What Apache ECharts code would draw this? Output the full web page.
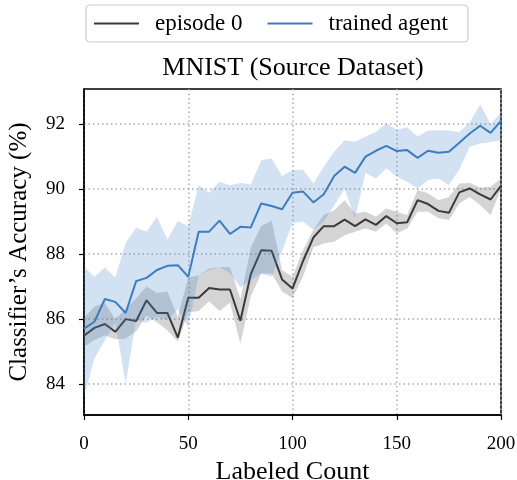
<!DOCTYPE html>
<html>
<head>
<meta charset="utf-8">
<script src="https://cdn.jsdelivr.net/npm/echarts@6/dist/echarts.min.js"></script>
<style>
  html, body { margin: 0; padding: 0; background: #fff; }
  #chart { width: 517px; height: 480px; }
</style>
</head>
<body>
<div id="chart"></div>
<script>
// Labeled count at each evaluation step
const labeledCount = [0, 5, 10, 15, 20, 25, 30, 35, 40, 45, 50, 55, 60, 65, 70, 75, 80, 85, 90, 95, 100,
  105, 110, 115, 120, 125, 130, 135, 140, 145, 150, 155, 160, 165, 170, 175, 180, 185, 190, 195, 200];

// Episode 0: mean accuracy and spread
const episode0Mean = [85.49, 85.73, 85.85, 85.61, 86.0, 85.94, 86.58, 86.19, 86.19, 85.43, 86.66, 86.66, 86.96, 86.91, 86.91, 85.95, 87.38, 88.12, 88.1, 87.22, 86.94,
  87.78, 88.51, 88.86, 88.86, 89.06, 88.86, 89.07, 88.9, 89.17, 88.95, 88.98, 89.66, 89.54, 89.33, 89.27, 89.9, 90.02, 89.84, 89.68, 90.1];
const episode0Upper = [86.05, 86.38, 86.5, 86.0, 86.3, 86.64, 87.0, 86.8, 86.85, 86.07, 87.28, 87.35, 87.56, 87.6, 87.6, 86.62, 88.2, 88.86, 89.03, 87.5, 87.3,
  88.12, 88.74, 89.2, 89.35, 89.66, 89.25, 89.3, 89.15, 89.4, 89.3, 89.2, 89.97, 89.87, 89.66, 89.76, 90.17, 90.19, 90.05, 90.07, 90.33];
const episode0Lower = [85.15, 85.36, 85.5, 85.38, 85.4, 85.62, 86.1, 85.9, 85.65, 85.3, 86.2, 86.25, 86.55, 86.25, 86.5, 85.25, 86.7, 87.4, 87.4, 86.85, 86.65,
  87.3, 88.2, 88.33, 88.38, 88.58, 88.69, 88.79, 88.69, 88.94, 88.64, 88.79, 89.3, 89.3, 89.1, 89.05, 89.56, 89.76, 89.51, 89.2, 90.0];

// Trained agent: mean accuracy and spread
const trainedMean = [85.71, 85.92, 86.62, 86.53, 86.19, 87.17, 87.27, 87.51, 87.64, 87.66, 87.3, 88.69, 88.69, 89.03, 88.62, 88.84, 88.82, 89.56, 89.48, 89.38, 89.89,
  89.93, 89.59, 89.84, 90.4, 90.69, 90.5, 91.0, 91.18, 91.33, 91.17, 91.2, 90.96, 91.18, 91.12, 91.15, 91.43, 91.71, 91.95, 91.73, 92.1];
const trainedUpper = [87.61, 87.3, 87.59, 87.28, 88.35, 88.82, 88.69, 89.15, 88.45, 89.02, 88.86, 90.12, 89.89, 90.23, 90.12, 90.19, 90.14, 90.89, 90.94, 90.4, 90.58,
  90.6, 90.17, 90.69, 91.15, 91.5, 91.46, 91.61, 91.76, 92.03, 91.82, 91.9, 91.62, 91.8, 91.8, 91.8, 91.75, 92.05, 92.6, 92.0, 92.35];
const trainedLower = [83.61, 84.79, 85.35, 85.9, 84.02, 85.97, 85.89, 86.07, 85.97, 86.3, 85.76, 87.35, 87.5, 87.6, 87.4, 86.98, 87.2, 87.4, 87.3, 88.1, 88.95,
  89.0, 88.75, 89.0, 89.5, 90.0, 89.1, 90.5, 90.33, 90.64, 90.38, 90.23, 90.02, 90.28, 90.33, 90.13, 90.6, 91.3, 91.4, 91.45, 91.5];

// Axis ticks
const xTicks = [0, 50, 100, 150, 200];
const yTicks = [84, 86, 88, 90, 92];

const FONT = '"Liberation Serif", "Times New Roman", serif';

function pairs(ys) { return labeledCount.map((x, i) => [x, ys[i]]); }

// Shaded band between a lower and an upper curve, drawn as one polygon
function bandSeries(name, lower, upper, color, z) {
  return {
    name: name,
    type: 'custom',
    z: z,
    silent: true,
    clip: true,
    data: labeledCount.map((x, i) => [x, lower[i], upper[i]]),
    encode: { x: 0, y: [1, 2] },
    renderItem: function (params, api) {
      if (params.dataIndex !== 0) return null;
      const pts = [];
      for (let i = 0; i < labeledCount.length; i++) pts.push(api.coord([labeledCount[i], upper[i]]));
      for (let i = labeledCount.length - 1; i >= 0; i--) pts.push(api.coord([labeledCount[i], lower[i]]));
      return { type: 'polygon', shape: { points: pts }, style: { fill: color } };
    }
  };
}

const chart = echarts.init(document.getElementById('chart'), null, { renderer: 'canvas' });

chart.setOption({
  animation: false,
  backgroundColor: '#fff',
  title: {
    text: 'MNIST (Source Dataset)',
    left: 293, top: 55, padding: 0, textAlign: 'center',
    textStyle: { fontFamily: FONT, fontSize: 26, lineHeight: 26, fontWeight: 'normal', color: '#000' }
  },
  legend: {
    data: ['episode 0', 'trained agent'],
    left: 86, top: 5,
    padding: [7, 20, 7, 8],
    itemGap: 25,
    itemWidth: 45, itemHeight: 2,
    icon: 'rect',
    borderColor: '#cccccc', borderWidth: 1.2, borderRadius: 4,
    textStyle: { fontFamily: FONT, fontSize: 23, lineHeight: 23, color: '#000', padding: [0, 0, 0, 11] }
  },
  grid: {
    left: 84, right: 16, top: 89, bottom: 65,
    outerBoundsMode: 'none',
    containLabel: false,
    show: true, borderColor: '#000', borderWidth: 1.5
  },
  xAxis: {
    type: 'value',
    min: 0, max: 200, interval: 50,
    name: 'Labeled Count', nameLocation: 'middle', nameGap: 41,
    nameTextStyle: { fontFamily: FONT, fontSize: 26, lineHeight: 26, color: '#000' },
    axisLine: { show: true, lineStyle: { color: '#000', width: 1.5 } },
    axisTick: { show: true, length: 5, lineStyle: { color: '#000', width: 1.2 }, customValues: xTicks },
    axisLabel: { fontFamily: FONT, fontSize: 19, color: '#000', margin: 20, customValues: xTicks },
    splitLine: { show: true, lineStyle: { color: '#aaaaaa', width: 1.5, type: [1.5, 3] } }
  },
  yAxis: {
    type: 'value',
    min: 83.05, max: 93.08,
    name: 'Classifier\u2019s Accuracy (%)', nameLocation: 'middle', nameGap: 52,
    nameTextStyle: { fontFamily: FONT, fontSize: 25, lineHeight: 25, color: '#000' },
    axisLine: { show: true, lineStyle: { color: '#000', width: 1.5 } },
    axisTick: { show: true, length: 5, lineStyle: { color: '#000', width: 1.2 }, customValues: yTicks },
    axisLabel: { fontFamily: FONT, fontSize: 19, color: '#000', margin: 19, customValues: yTicks },
    splitLine: { show: true, lineStyle: { color: '#aaaaaa', width: 1.5, type: [1.5, 3] } }
  },
  series: [
    bandSeries('episode 0 band', episode0Lower, episode0Upper, 'rgba(90, 90, 90, 0.26)', 2),
    {
      name: 'episode 0', type: 'line', z: 3,
      data: pairs(episode0Mean),
      showSymbol: false, symbol: 'none',
      color: '#3a3a3a',
      lineStyle: { color: '#3a3a3a', width: 2 }
    },
    bandSeries('trained agent band', trainedLower, trainedUpper, 'rgba(74, 140, 205, 0.25)', 4),
    {
      name: 'trained agent', type: 'line', z: 5,
      data: pairs(trainedMean),
      showSymbol: false, symbol: 'none',
      color: '#3b7dc0',
      lineStyle: { color: '#3b7dc0', width: 2 }
    }
  ]
});
</script>
</body>
</html>
